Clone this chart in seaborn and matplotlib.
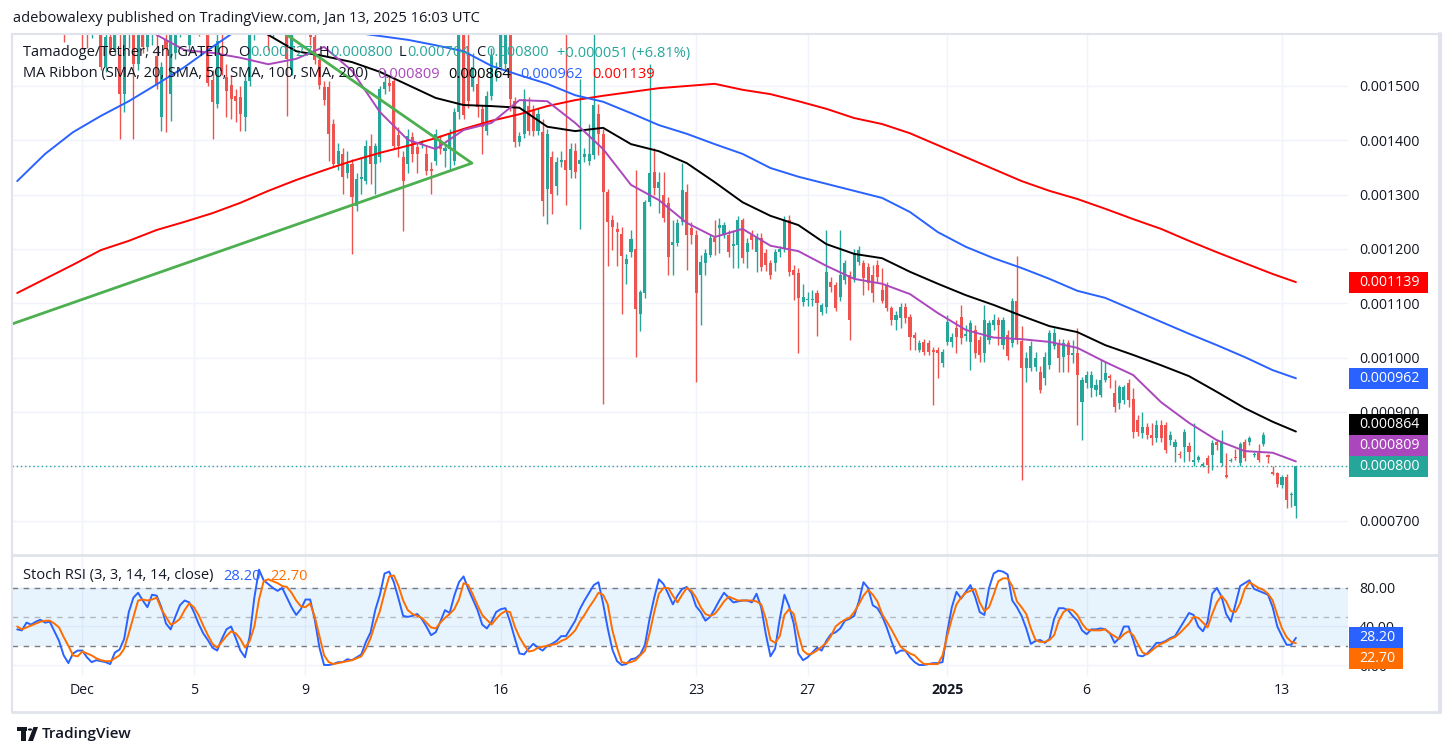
import matplotlib
matplotlib.use("Agg")
import numpy as np
import pandas as pd
import seaborn as sns
import matplotlib.pyplot as plt
from matplotlib.patches import Rectangle, Polygon, Circle
from matplotlib.lines import Line2D

# =============================================================================
# Tamadoge/Tether 4h candles, prices in millionths of USDT (1345 -> 0.001345)
# =============================================================================
start = pd.Timestamp("2024-11-28 16:00")

open_u = [1720, 1740, 1710, 1730, 1715, 1690, 1705, 1680, 1700, 1665,
          1680, 1640, 1670, 1650, 1675, 1625, 1605, 1630, 1660, 1535,
          1590, 1566, 1557, 1485, 1610, 1645, 1540, 1620, 1572, 1615,
          1556, 1443, 1585, 1485, 1560, 1635, 1665, 1575, 1650, 1670,
          1640, 1630, 1511, 1466, 1557, 1516, 1502, 1482, 1480, 1443,
          1509, 1605, 1645, 1675, 1700, 1600, 1660, 1690, 1700, 1530,
          1610, 1650, 1630, 1660, 1590, 1548, 1498, 1498, 1430, 1356,
          1375, 1340, 1356, 1279, 1329, 1325, 1390, 1356, 1370, 1494,
          1505, 1509, 1410, 1369, 1356, 1406, 1387, 1392, 1375, 1347,
          1362, 1401, 1380, 1384, 1362, 1452, 1620, 1557, 1498, 1504,
          1458, 1417, 1482, 1517, 1535, 1540, 1620, 1472, 1397, 1412,
          1463, 1454, 1417, 1415, 1310, 1369, 1316, 1360, 1364, 1345,
          1380, 1356, 1370, 1362, 1373, 1448, 1412, 1305, 1253, 1237,
          1228, 1172, 1194, 1200, 1080, 1119, 1286, 1342, 1312, 1299,
          1285, 1208, 1211, 1250, 1305, 1239, 1226, 1152, 1174, 1189,
          1220, 1239, 1226, 1226, 1205, 1207, 1253, 1194, 1226, 1194,
          1220, 1193, 1174, 1174, 1194, 1200, 1253, 1161, 1156, 1102,
          1106, 1106, 1119, 1084, 1093, 1139, 1134, 1112, 1143, 1152,
          1147, 1176, 1174, 1167, 1152, 1171, 1125, 1134, 1091, 1069,
          1073, 1093, 1075, 1042, 1014, 1029, 1027, 1014, 1014, 990,
          1029, 1029, 1055, 1075, 1040, 1029, 1051, 1032, 1009, 1032,
          1060, 1069, 1023, 1042, 1027, 1104, 1031, 981, 981, 983,
          974, 963, 986, 1021, 1027, 1001, 1027, 1005, 1009, 918,
          953, 944, 940, 931, 959, 966, 935, 917, 922, 953,
          924, 885, 861, 872, 858, 852, 876, 876, 848, 835,
          823, 835, 838, 808, 812, 801, 815, 821, 845, 806,
          784, 810, 817, 806, 845, 845, 820, 824, 841, 820,
          790, 788, 765, 780, 747, 727]

high_u = [1760, 1780, 1750, 1770, 1745, 1730, 1740, 1720, 1730, 1700,
          1705, 1690, 1700, 1690, 1695, 1660, 1650, 1680, 1690, 1610,
          1630, 1640, 1630, 1640, 1660, 1670, 1640, 1650, 1630, 1650,
          1610, 1545, 1610, 1620, 1650, 1680, 1700, 1680, 1690, 1690,
          1670, 1660, 1530, 1615, 1600, 1540, 1520, 1495, 1500, 1520,
          1620, 1660, 1690, 1710, 1720, 1670, 1700, 1730, 1720, 1630,
          1660, 1680, 1670, 1680, 1610, 1560, 1510, 1510, 1440, 1395,
          1385, 1380, 1365, 1340, 1369, 1400, 1412, 1395, 1500, 1530,
          1520, 1515, 1425, 1380, 1420, 1415, 1395, 1400, 1390, 1360,
          1420, 1410, 1395, 1420, 1460, 1620, 1640, 1600, 1560, 1520,
          1465, 1490, 1570, 1545, 1640, 1650, 1650, 1480, 1415, 1494,
          1480, 1465, 1460, 1440, 1420, 1380, 1370, 1380, 1610, 1395,
          1395, 1513, 1385, 1430, 1600, 1467, 1420, 1310, 1262, 1250,
          1240, 1190, 1235, 1345, 1125, 1290, 1540, 1386, 1342, 1342,
          1295, 1253, 1255, 1358, 1320, 1250, 1235, 1189, 1200, 1228,
          1253, 1257, 1250, 1235, 1235, 1260, 1257, 1220, 1235, 1230,
          1230, 1200, 1180, 1200, 1205, 1260, 1262, 1170, 1165, 1136,
          1120, 1125, 1125, 1100, 1235, 1148, 1140, 1235, 1180, 1160,
          1200, 1205, 1180, 1175, 1171, 1180, 1165, 1140, 1095, 1085,
          1100, 1100, 1080, 1048, 1032, 1035, 1032, 1020, 1020, 1015,
          1079, 1045, 1069, 1097, 1060, 1070, 1060, 1040, 1097, 1070,
          1080, 1075, 1075, 1050, 1110, 1187, 1058, 1010, 1030, 1010,
          985, 1010, 1050, 1055, 1035, 1035, 1032, 1032, 1055, 965,
          975, 975, 960, 996, 994, 970, 959, 950, 950, 960,
          944, 895, 900, 880, 880, 885, 885, 882, 865, 850,
          828, 868, 845, 880, 821, 808, 820, 848, 850, 867,
          825, 815, 832, 845, 850, 856, 826, 841, 863, 822,
          800, 790, 784, 785, 752, 800]

low_u = [1690, 1700, 1680, 1700, 1670, 1660, 1665, 1645, 1650, 1620,
         1581, 1610, 1620, 1615, 1568, 1570, 1588, 1610, 1530, 1525,
         1560, 1557, 1402, 1452, 1570, 1402, 1530, 1560, 1565, 1575,
         1495, 1417, 1415, 1436, 1550, 1590, 1610, 1565, 1605, 1592,
         1600, 1500, 1402, 1460, 1520, 1443, 1440, 1434, 1417, 1417,
         1500, 1585, 1610, 1620, 1566, 1590, 1630, 1640, 1445, 1520,
         1600, 1598, 1600, 1575, 1540, 1495, 1465, 1362, 1350, 1345,
         1301, 1330, 1191, 1270, 1301, 1320, 1320, 1301, 1360, 1485,
         1490, 1385, 1370, 1233, 1340, 1360, 1340, 1385, 1336, 1301,
         1355, 1375, 1350, 1345, 1355, 1440, 1440, 1460, 1490, 1443,
         1375, 1410, 1475, 1510, 1530, 1530, 1454, 1387, 1390, 1405,
         1410, 1408, 1410, 1261, 1246, 1264, 1300, 1350, 1281, 1330,
         1330, 1237, 1360, 1355, 1365, 1373, 915, 1168, 1198, 1168,
         1080, 1135, 1185, 1001, 1049, 1110, 1280, 1300, 1266, 1250,
         1152, 1152, 1205, 1245, 1161, 1210, 955, 1060, 1152, 1185,
         1189, 1193, 1220, 1185, 1165, 1165, 1175, 1165, 1200, 1158,
         1160, 1160, 1145, 1160, 1185, 1195, 1150, 1106, 1009, 1095,
         1095, 1095, 1040, 1079, 1082, 1120, 1085, 1105, 1135, 1032,
         1140, 1170, 1115, 1125, 1102, 1140, 1100, 1085, 1060, 1051,
         1055, 1064, 1014, 1014, 1010, 1005, 1005, 913, 962, 983,
         1023, 1020, 1008, 1025, 1030, 977, 1000, 992, 992, 1025,
         1050, 1023, 1015, 995, 1020, 1025, 775, 955, 975, 975,
         935, 950, 980, 1015, 974, 974, 974, 990, 876, 848,
         945, 927, 930, 927, 955, 944, 900, 905, 915, 909,
         852, 855, 853, 850, 839, 845, 845, 825, 840, 808,
         815, 808, 810, 800, 808, 798, 788, 793, 830, 800,
         778, 808, 812, 800, 810, 840, 818, 808, 838, 806,
         784, 762, 760, 723, 725, 704]

close_u = [1740, 1710, 1730, 1715, 1690, 1705, 1680, 1700, 1665, 1680,
           1640, 1670, 1650, 1675, 1625, 1605, 1630, 1660, 1535, 1590,
           1566, 1620, 1485, 1610, 1645, 1540, 1620, 1572, 1615, 1632,
           1502, 1535, 1568, 1610, 1635, 1665, 1680, 1650, 1670, 1640,
           1630, 1505, 1470, 1583, 1528, 1491, 1476, 1472, 1448, 1509,
           1605, 1645, 1675, 1700, 1600, 1660, 1690, 1720, 1550, 1610,
           1650, 1630, 1660, 1590, 1548, 1502, 1474, 1412, 1356, 1380,
           1332, 1356, 1296, 1329, 1333, 1390, 1356, 1390, 1494, 1507,
           1500, 1390, 1390, 1325, 1408, 1375, 1375, 1395, 1343, 1343,
           1412, 1384, 1386, 1412, 1452, 1610, 1447, 1472, 1535, 1461,
           1425, 1482, 1555, 1522, 1600, 1620, 1476, 1397, 1408, 1476,
           1417, 1417, 1448, 1288, 1412, 1301, 1360, 1364, 1345, 1384,
           1342, 1364, 1375, 1375, 1465, 1412, 1305, 1250, 1240, 1231,
           1187, 1181, 1218, 1090, 1121, 1286, 1340, 1312, 1323, 1257,
           1185, 1212, 1248, 1309, 1226, 1226, 1119, 1176, 1193, 1220,
           1213, 1244, 1244, 1194, 1209, 1253, 1183, 1211, 1217, 1222,
           1167, 1171, 1152, 1194, 1200, 1253, 1158, 1152, 1110, 1112,
           1108, 1108, 1100, 1097, 1158, 1130, 1091, 1152, 1174, 1069,
           1193, 1198, 1146, 1137, 1119, 1148, 1104, 1091, 1069, 1078,
           1093, 1073, 1038, 1036, 1027, 1010, 1010, 1010, 1008, 1010,
           1066, 1038, 1038, 1036, 1044, 1064, 1009, 1005, 1069, 1064,
           1069, 1060, 1069, 1003, 1104, 1032, 981, 1000, 1022, 1000,
           940, 1001, 1045, 1045, 1000, 1027, 1005, 1009, 968, 959,
           968, 968, 950, 959, 972, 963, 909, 946, 946, 922,
           863, 863, 872, 858, 852, 876, 852, 830, 858, 845,
           820, 863, 826, 812, 817, 804, 802, 843, 839, 845,
           780, 812, 815, 841, 815, 852, 822, 812, 858, 817,
           786, 767, 780, 738, 749, 800]

# MA ribbon, read every 6th candle (millionths)
ma_idx = list(range(0, 271, 6)) + [275]
sma20_u = [1720, 1700, 1680, 1660, 1630, 1594, 1566, 1561, 1552, 1540,
           1550, 1572, 1528, 1452, 1401, 1384, 1419, 1432, 1474, 1472,
           1432, 1384, 1318, 1290, 1248, 1222, 1237, 1206, 1196, 1169,
           1145, 1136, 1117, 1082, 1051, 1037, 1034, 1029, 1018, 992,
           968, 918, 880, 848, 828, 825, 809]
sma50_u = [1700, 1705, 1705, 1700, 1695, 1690, 1680, 1665, 1625, 1594,
           1564, 1555, 1544, 1526, 1502, 1478, 1465, 1463, 1460, 1425,
           1417, 1423, 1393, 1380, 1358, 1323, 1286, 1261, 1244, 1209,
           1191, 1183, 1158, 1136, 1115, 1097, 1077, 1058, 1047, 1023,
           1005, 986, 966, 937, 907, 882, 864]
sma100_u = [1325, 1375, 1415, 1445, 1472, 1503, 1535, 1572, 1607, 1621,
            1621, 1612, 1599, 1592, 1585, 1575, 1564, 1537, 1520, 1504,
            1483, 1471, 1450, 1428, 1412, 1393, 1375, 1349, 1333, 1320,
            1307, 1294, 1268, 1231, 1204, 1183, 1165, 1145, 1123, 1110,
            1088, 1066, 1044, 1023, 1001, 977, 962]
sma200_u = [1119, 1145, 1171, 1198, 1215, 1235, 1250, 1266, 1285, 1307,
            1327, 1345, 1362, 1377, 1390, 1404, 1421, 1436, 1448, 1463,
            1474, 1482, 1489, 1496, 1500, 1504, 1493, 1485, 1472, 1458,
            1441, 1430, 1413, 1391, 1369, 1347, 1325, 1307, 1292, 1274,
            1255, 1237, 1215, 1194, 1174, 1154, 1139]

# Stoch RSI (3, 3, 14, 14, close), one value per candle
stoch_k = [37, 36, 44, 42, 45, 47, 44, 45, 35, 25,
           10, 2, 12, 15, 15, 8, 3, 5, 4, 3,
           1, 13, 16, 27, 55, 70, 75, 67, 60, 73,
           72, 60, 43, 37, 50, 62, 67, 65, 55, 43,
           33, 26, 18, 15, 27, 37, 40, 28, 15, 8,
           30, 70, 99, 88, 84, 80, 77, 80, 70, 60,
           52, 58, 68, 68, 47, 18, 0, 0, 1, 3,
           3, 6, 5, 8, 11, 24, 34, 57, 73, 95,
           97, 86, 69, 51, 50, 51, 53, 48, 40, 31,
           34, 45, 57, 54, 72, 86, 92, 79, 68, 57,
           42, 38, 45, 55, 58, 59, 45, 28, 12, 11,
           17, 22, 18, 15, 20, 22, 25, 30, 30, 38,
           46, 58, 67, 75, 83, 86, 64, 38, 16, 4,
           0, 1, 6, 7, 11, 21, 48, 70, 89, 84,
           74, 63, 72, 79, 81, 75, 61, 55, 46, 50,
           58, 67, 75, 70, 65, 66, 67, 67, 65, 74,
           60, 32, 9, 17, 48, 73, 61, 43, 12, 5,
           8, 13, 18, 15, 25, 32, 34, 38, 46, 48,
           51, 66, 86, 80, 62, 59, 51, 39, 25, 12,
           15, 15, 8, 3, 0, 0, 1, 2, 2, 3,
           34, 60, 76, 69, 76, 83, 71, 55, 52, 80,
           95, 98, 97, 94, 67, 60, 51, 38, 22, 25,
           26, 23, 27, 48, 59, 59, 57, 51, 46, 36,
           32, 37, 37, 38, 37, 33, 23, 28, 40, 40,
           26, 10, 9, 12, 17, 23, 23, 25, 28, 30,
           38, 46, 54, 52, 40, 35, 45, 74, 80, 71,
           53, 45, 63, 82, 85, 88, 79, 77, 75, 73,
           60, 40, 30, 21, 21, 28.2]
stoch_d = [40, 37, 39, 41, 43, 45, 46, 46, 43, 39,
           29, 20, 10, 9, 14, 12, 10, 7, 5, 4,
           4, 7, 10, 17, 33, 50, 67, 68, 67, 68,
           70, 58, 50, 42, 44, 48, 57, 64, 60, 52,
           41, 31, 22, 18, 24, 30, 35, 33, 27, 18,
           25, 40, 68, 87, 89, 87, 85, 82, 81, 75,
           67, 61, 60, 64, 50, 30, 10, 3, 1, 2,
           3, 4, 5, 7, 9, 17, 28, 43, 56, 75,
           92, 93, 82, 67, 57, 53, 51, 49, 44, 39,
           38, 44, 49, 53, 58, 68, 85, 83, 73, 62,
           52, 47, 42, 48, 53, 56, 55, 40, 29, 21,
           14, 15, 18, 19, 20, 21, 22, 25, 27, 31,
           36, 45, 52, 60, 67, 75, 73, 63, 36, 18,
           3, 2, 3, 5, 10, 15, 33, 55, 74, 80,
           80, 72, 65, 73, 80, 77, 70, 60, 53, 51,
           53, 59, 66, 71, 69, 67, 67, 67, 67, 66,
           63, 48, 26, 23, 30, 52, 58, 53, 32, 15,
           11, 12, 15, 19, 23, 30, 40, 44, 47, 49,
           55, 63, 72, 78, 73, 66, 53, 45, 37, 28,
           19, 15, 12, 10, 5, 1, 1, 1, 1, 10,
           30, 48, 63, 70, 75, 77, 79, 65, 56, 60,
           73, 87, 90, 90, 82, 66, 60, 53, 38, 26,
           24, 24, 26, 31, 46, 55, 58, 57, 52, 43,
           37, 36, 36, 36, 37, 33, 30, 27, 32, 35,
           31, 22, 13, 11, 15, 19, 22, 24, 27, 29,
           33, 38, 43, 50, 49, 44, 39, 53, 65, 72,
           66, 56, 55, 64, 79, 86, 83, 80, 78, 74,
           67, 52, 38, 29, 24, 22.7]

# triangle drawing anchors (candle index, millionths)
tri_idx = [-1.1, 97.8, 44]
tri_u = [1062, 1358, 1677]

date_ticks = ["2024-12-01", "2024-12-05", "2024-12-09", "2024-12-16", "2024-12-23",
              "2024-12-27", "2025-01-01", "2025-01-06", "2025-01-13"]
date_labels = ["Dec", "5", "9", "16", "23", "27", "2025", "6", "13"]
price_ticks_u = [700, 800, 900, 1000, 1100, 1200, 1300, 1400, 1500]
stoch_ticks = [0, 40, 80]

# =============================================================================
W, H = 1453, 756
UP, DN = "#26a69a", "#ef5350"
TXT = "#131722"
C20, C50, C100, C200 = "#ab47bc", "#000000", "#2962ff", "#ff0000"
CK, CD = "#2962ff", "#ff6d00"
GRID = "#f0f3fa"
BORDER = "#e0e3eb"
FS = 10.5     # legend / header text
FT = 10.2     # scale labels

sns.set_theme(style="white")
plt.rcParams["font.family"] = ["Open Sans", "DejaVu Sans"]

fig = plt.figure(figsize=(W / 100, H / 100), dpi=100)
fig.patch.set_facecolor("white")


def px_rect(x0, y0, x1, y1):
    return [x0 / W, 1 - y1 / H, (x1 - x0) / W, (y1 - y0) / H]


ax = fig.add_axes(px_rect(12, 34, 1348, 554))
axs = fig.add_axes(px_rect(12, 556, 1348, 676))

o = np.array(open_u) * 1e-6
h = np.array(high_u) * 1e-6
l = np.array(low_u) * 1e-6
c = np.array(close_u) * 1e-6
idx = np.arange(len(c))
cols = np.where(c >= o, UP, DN)

# candles
ax.vlines(idx, np.minimum(l, np.minimum(o, c)), np.maximum(h, np.maximum(o, c)),
          colors=cols, lw=1, zorder=2)
ax.bar(idx, np.maximum(np.abs(c - o), 1.9e-6), bottom=np.minimum(o, c), width=0.66,
       color=cols, lw=0, zorder=3)

# MA ribbon
ma_x = np.array(ma_idx)
for vals, col in [(sma200_u, C200), (sma100_u, C100), (sma50_u, C50), (sma20_u, C20)]:
    sns.lineplot(x=ma_x, y=np.array(vals) * 1e-6, ax=ax, color=col, lw=1.4, zorder=4)

# triangle drawing
ax.plot(tri_idx, np.array(tri_u) * 1e-6, color="#4caf50", lw=2, zorder=5,
        solid_capstyle="round")

# last price line
ax.axhline(c[-1], color=UP, lw=1, ls=(0, (1, 2)), zorder=3)

tick_pos = [(pd.Timestamp(d) - start) / pd.Timedelta(hours=4) for d in date_ticks]
xlim = (-1.12, 286.2)

ax.set_xlim(*xlim)
ax.set_ylim(638.6e-6, 1595.7e-6)
ax.set_xticks(tick_pos)
ax.tick_params(axis="x", labelbottom=False, length=0)
ax.yaxis.tick_right()
ax.set_yticks(np.array(price_ticks_u) * 1e-6)
ax.set_yticklabels([f"{v * 1e-6:.6f}" for v in price_ticks_u])
ax.tick_params(axis="y", length=0, pad=8, labelsize=FT, labelcolor=TXT)
ax.grid(True, color=GRID, lw=1)
ax.set_axisbelow(True)
ax.set_xlabel("")
ax.set_ylabel("")
for sp in ax.spines.values():
    sp.set_visible(False)

# Stoch RSI pane
axs.axhspan(20, 80, color="#2196f3", alpha=0.1, lw=0)
axs.axhline(80, color="#787b86", lw=1, ls=(0, (4, 4)))
axs.axhline(20, color="#787b86", lw=1, ls=(0, (4, 4)))
axs.axhline(50, color="#787b86", lw=1, ls=(0, (4, 4)), alpha=0.5)
sns.lineplot(x=idx, y=stoch_k, ax=axs, color=CK, lw=1.4, zorder=4)
sns.lineplot(x=idx, y=stoch_d, ax=axs, color=CD, lw=1.4, zorder=4)
axs.set_xlim(*xlim)
axs.set_ylim(-11.4, 113.2)
axs.set_xticks(tick_pos)
axs.set_xticklabels(date_labels)
axs.tick_params(axis="x", length=0, pad=5, labelsize=FT, labelcolor=TXT)
for t in axs.get_xticklabels():
    if t.get_text() == "2025":
        t.set_fontweight("bold")
axs.yaxis.tick_right()
axs.set_yticks(stoch_ticks)
axs.set_yticklabels([f"{v:.2f}" for v in stoch_ticks])
axs.tick_params(axis="y", length=0, pad=8, labelsize=FT, labelcolor=TXT)
axs.grid(True, color=GRID, lw=1)
axs.set_axisbelow(True)
axs.set_xlabel("")
axs.set_ylabel("")
for sp in axs.spines.values():
    sp.set_visible(False)


# price-scale tags, pushed apart like TradingView does
def tags(axis, items, width, fmt):
    placed = []
    th = 21
    for val, col in items:
        y = H - axis.transData.transform((0, val))[1]
        for _ in range(20):
            moved = False
            for pv, py in placed:
                if abs(y - py) < th - 0.5:
                    y = py + th if val < pv else py - th
                    moved = True
            if not moved:
                break
        placed.append((val, y))
        fig.add_artist(Rectangle((1349 / W, 1 - (y + th / 2) / H), width / W, th / H,
                                 transform=fig.transFigure, facecolor=col,
                                 edgecolor="none", zorder=6))
        fig.text(1359 / W, 1 - y / H, fmt.format(val), color="white", fontsize=FT,
                 va="center", ha="left", zorder=7)


tags(ax, [(c[-1], UP), (sma20_u[-1] * 1e-6, C20), (sma50_u[-1] * 1e-6, C50),
          (sma100_u[-1] * 1e-6, C100), (sma200_u[-1] * 1e-6, C200)], 79, "{:.6f}")
tags(axs, [(stoch_k[-1], CK), (stoch_d[-1], CD)], 54, "{:.2f}")

# legends
renderer = fig.canvas.get_renderer()


def run(x_px, y_px, pieces):
    x = x_px
    for s, col, gap in pieces:
        t = fig.text(x / W, 1 - y_px / H, s, color=col, fontsize=FS, va="center",
                     ha="left", zorder=8)
        x += t.get_window_extent(renderer=renderer).width + gap


chg = close_u[-1] - close_u[-2]
pct = chg / close_u[-2] * 100
run(23, 53, [("Tamadoge/Tether, 4h, GATEIO", TXT, 9),
             ("O", TXT, 1), (f"{o[-1]:.6f}", UP, 6),
             ("H", TXT, 1), (f"{h[-1]:.6f}", UP, 6),
             ("L", TXT, 1), (f"{l[-1]:.6f}", UP, 6),
             ("C", TXT, 1), (f"{c[-1]:.6f}", UP, 8),
             (f"+{chg * 1e-6:.6f} (+{pct:.2f}%)", UP, 0)])
run(23, 74, [("MA Ribbon (SMA, 20, SMA, 50, SMA, 100, SMA, 200)", TXT, 9),
             (f"{sma20_u[-1] * 1e-6:.6f}", C20, 9),
             (f"{sma50_u[-1] * 1e-6:.6f}", C50, 9),
             (f"{sma100_u[-1] * 1e-6:.6f}", C100, 9),
             (f"{sma200_u[-1] * 1e-6:.6f}", C200, 0)])
run(23, 576, [("Stoch RSI (3, 3, 14, 14, close)", TXT, 10),
              (f"{stoch_k[-1]:.2f}", CK, 9),
              (f"{stoch_d[-1]:.2f}", CD, 0)])

fig.text(13 / W, 1 - 19 / H,
         "adebowalexy published on TradingView.com, Jan 13, 2025 16:03 UTC",
         color=TXT, fontsize=FS, va="center", ha="left")


# frame lines
def seg(x0, y0, x1, y1, lw=1.5):
    fig.add_artist(Line2D([x0 / W, x1 / W], [1 - y0 / H, 1 - y1 / H], color=BORDER,
                          lw=lw, zorder=9))


seg(12, 34, 1440, 34)
seg(12, 712, 1440, 712, 2)
seg(12, 34, 12, 712)
seg(1440, 34, 1440, 712, 3)
seg(12, 555, 1440, 555, 2)

# TradingView mark
fig.add_artist(Rectangle((17 / W, 1 - 731 / H), 10 / W, 4 / H, transform=fig.transFigure,
                         facecolor=TXT, edgecolor="none"))
fig.add_artist(Rectangle((21 / W, 1 - 741 / H), 5 / W, 12 / H, transform=fig.transFigure,
                         facecolor=TXT, edgecolor="none"))
fig.add_artist(Circle((30 / W, 1 - 729.5 / H), 2.2 / W, transform=fig.transFigure,
                      facecolor=TXT, edgecolor="none"))
fig.add_artist(Polygon([(28 / W, 1 - 741 / H), (33 / W, 1 - 741 / H), (38 / W, 1 - 727 / H),
                        (33.5 / W, 1 - 727 / H)], closed=True, transform=fig.transFigure,
                       facecolor=TXT, edgecolor="none"))
fig.text(42 / W, 1 - 734 / H, "TradingView", color=TXT, fontsize=11,
         fontweight="semibold", va="center", ha="left")

fig.savefig("out.png", dpi=100, facecolor="white")
